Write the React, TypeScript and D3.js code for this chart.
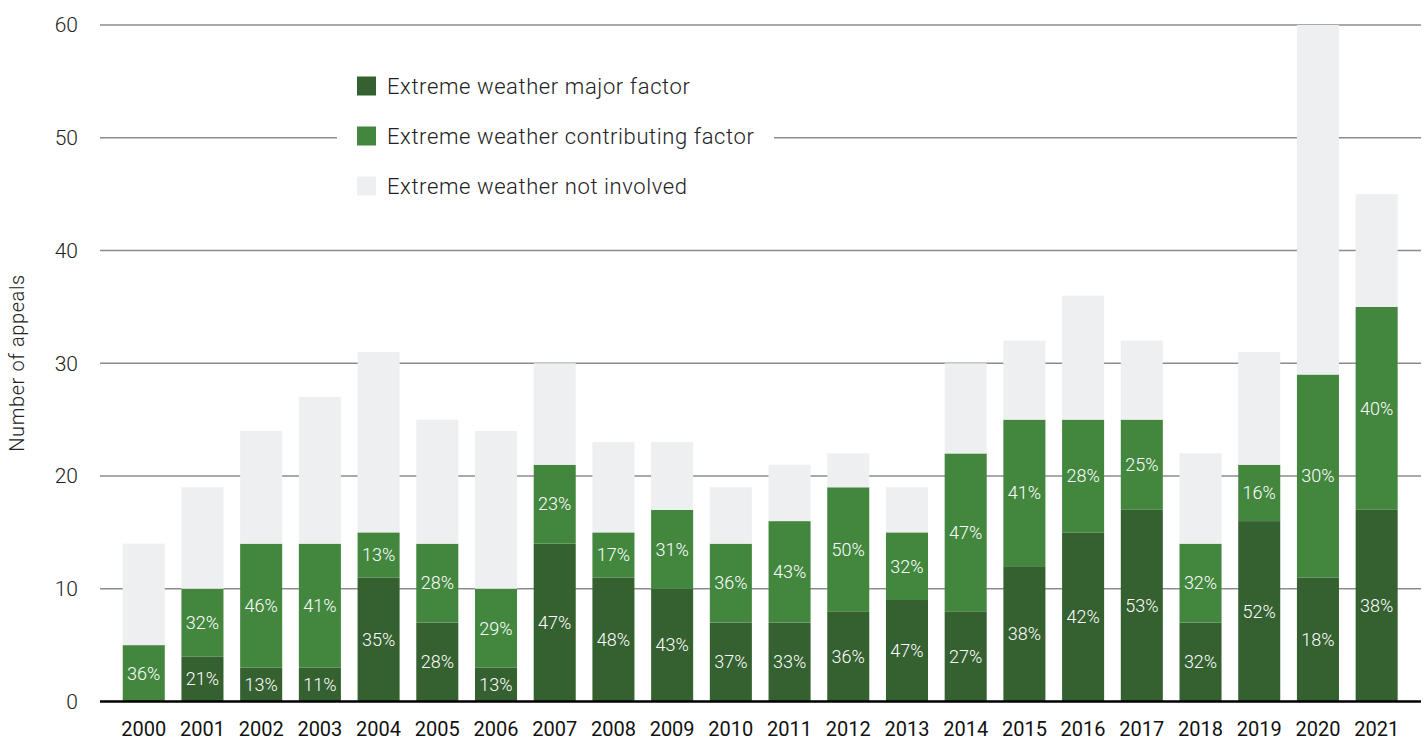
import React from "react";
import * as d3 from "d3";

const years = ["2000","2001","2002","2003","2004","2005","2006","2007","2008","2009","2010","2011","2012","2013","2014","2015","2016","2017","2018","2019","2020","2021"];
const major = [0,4,3,3,11,7,3,14,11,10,7,7,8,9,8,12,15,17,7,16,11,17];
const contributing = [5,6,11,11,4,7,7,7,4,7,7,9,11,6,14,13,10,8,7,5,18,18];
const notInvolved = [9,9,10,13,16,11,14,9,8,6,5,5,3,4,8,7,11,7,8,10,31,10];
const majorPctLabels = ["","21%","13%","11%","35%","28%","13%","47%","48%","43%","37%","33%","36%","47%","27%","38%","42%","53%","32%","52%","18%","38%"];
const contributingPctLabels = ["36%","32%","46%","41%","13%","28%","29%","23%","17%","31%","36%","43%","50%","32%","47%","41%","28%","25%","32%","16%","30%","40%"];
const yTicks = [0,10,20,30,40,50,60];
const seriesNames = ["Extreme weather major factor","Extreme weather contributing factor","Extreme weather not involved"];
const colors = ["#356030","#43873f","#eeeff0"];

const W = 1427, H = 740;
const FONT = "Roboto, 'DejaVu Sans Condensed', sans-serif";

export default function App() {
  const x = d3.scaleBand<string>().domain(years).range([114.4, 1406]).paddingInner(0.284).paddingOuter(0.142);
  const y = d3.scaleLinear().domain([0, 60]).range([701.5, 25]);
  const rows = years.map((yr, i) => ({ year: yr, major: major[i], contributing: contributing[i], notInvolved: notInvolved[i] }));
  const stack = d3.stack<any>().keys(["major","contributing","notInvolved"]);
  const series = stack(rows);
  const bw = x.bandwidth();
  const labelSets = [majorPctLabels, contributingPctLabels];

  return (
    <svg width={W} height={H} style={{ position: "absolute", left: 0, top: 0, background: "#fff" }} fontFamily={FONT}>
      {yTicks.filter(t => t > 0).map(t => (
        <line key={t} x1={100} x2={1421} y1={y(t)} y2={y(t)} stroke="#8c8c8c" strokeWidth={1.3} />
      ))}
      {yTicks.map(t => (
        <text key={"t"+t} x={78} y={y(t)} dy="0.35em" textAnchor="end" fontSize={21} fill="#222" fontWeight={300}>{t}</text>
      ))}
      <text transform={`translate(24,363) rotate(-90)`} textAnchor="middle" fontSize={20} fill="#222" fontWeight={300} letterSpacing={0.6}>Number of appeals</text>
      {series.map((s, si) => (
        <g key={si} fill={colors[si]}>
          {s.map((d, i) => d[1] - d[0] > 0 ? (
            <rect key={i} x={x(years[i])} y={y(d[1])} width={bw} height={y(d[0]) - y(d[1])} />
          ) : null)}
        </g>
      ))}
      {series.slice(0, 2).map((s, si) => (
        <g key={"l"+si}>
          {s.map((d, i) => {
            const v = d[1] - d[0];
            const lab = labelSets[si][i];
            if (v <= 0 || !lab) return null;
            return (
              <text key={i} x={(x(years[i]) as number) + bw / 2} y={(y(d[0]) + y(d[1])) / 2} dy="0.35em" textAnchor="middle" fontSize={18} fill="#fff" fontWeight={300}>{lab}</text>
            );
          })}
        </g>
      ))}
      <line x1={100} x2={1421} y1={y(0)} y2={y(0)} stroke="#000" strokeWidth={2.5} />
      {years.map(yr => (
        <text key={yr} x={(x(yr) as number) + bw / 2} y={729} dy="0.35em" textAnchor="middle" fontSize={20} fill="#111" fontWeight={400}>{yr}</text>
      ))}
      <rect x={337} y={62} width={437} height={148} fill="#fff" />
      {seriesNames.map((n, i) => (
        <g key={n} transform={`translate(357,${86 + i * 50})`}>
          <rect x={0} y={-9.5} width={19} height={19} fill={colors[i]} />
          <text x={30} y={0} dy="0.35em" fontSize={22} fill="#222" fontWeight={300} letterSpacing={0.6}>{n}</text>
        </g>
      ))}
    </svg>
  );
}
